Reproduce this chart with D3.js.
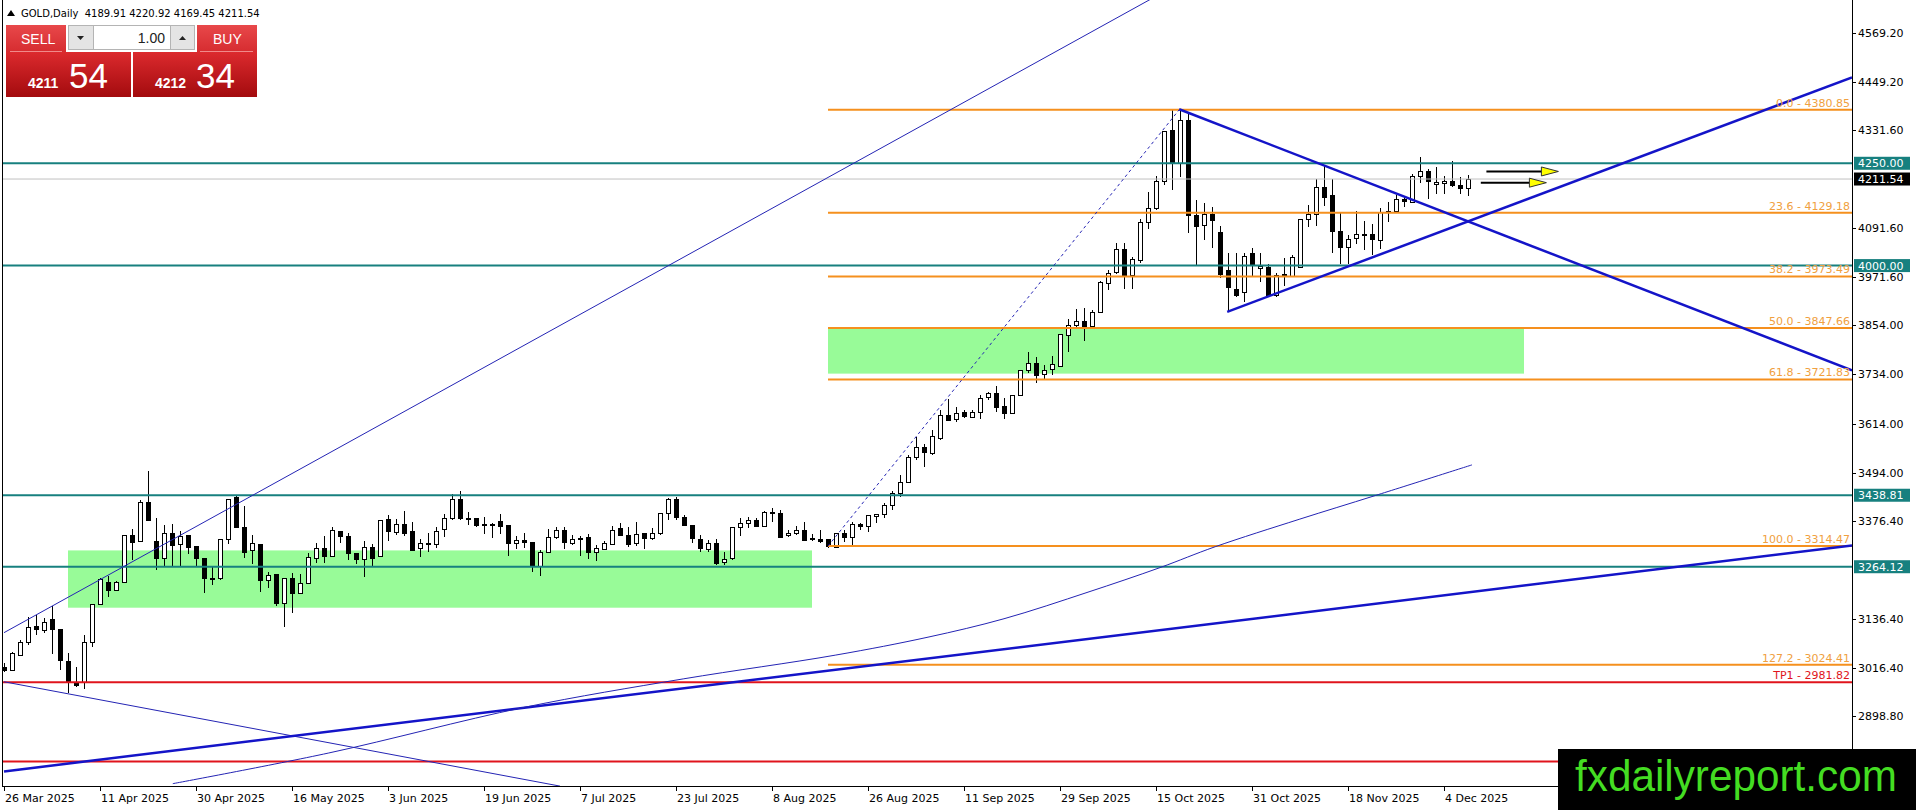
<!DOCTYPE html>
<html>
<head>
<meta charset="utf-8">
<title>GOLD,Daily</title>
<script src="https://cdn.jsdelivr.net/npm/d3@7"></script>
<style>
  body { margin: 0; background: #fff; }
  svg { display: block; font-family: "DejaVu Sans", sans-serif; }
</style>
</head>
<body>
<div id="chart"></div>
<script>
// ---- data ----
const symbol = "GOLD,Daily";
const firstDay = "2025-03-26";
const closedDays = ["2025-04-18"];

const opens = [3020,3013,3050,3081,3119,3110,3136,3111,3034,2979,2982,3079,3172,3226,3206,3226,3341,3327,3422,3327,
  3285,3346,3319,3342,3315,3285,3236,3236,3331,3434,3362,3303,3319,3234,3246,3175,3236,3201,3225,3287,
  3311,3291,3352,3339,3297,3283,3313,3289,3380,3350,3369,3351,3309,3321,3319,3354,3382,3429,3384,3384,
  3369,3368,3377,3366,3321,3329,3325,3268,3299,3336,3354,3324,3333,3336,3299,3309,3321,3358,3342,3321,
  3346,3335,3346,3395,3429,3385,3366,3332,3309,3323,3275,3285,3360,3370,3378,3364,3397,3396,3342,3346,
  3354,3334,3333,3331,3313,3346,3336,3368,3362,3390,3394,3415,3445,3472,3533,3557,3543,3578,3635,3624,
  3641,3631,3641,3678,3688,3657,3641,3684,3745,3763,3736,3746,3755,3832,3855,3865,3852,3885,3958,3983,
  4040,3975,4015,4107,4140,4207,4331,4252,4356,4124,4097,4126,4083,3989,3942,3935,4030,3993,3997,3928,
  3979,3975,3996,4113,4126,4193,4172,4085,4045,4066,4076,4076,4064,4132,4132,4162,4156,4219,4230,4201,
  4201,4207,4197,4189.91];
const highs = [3030,3056,3085,3142,3146,3138,3167,3111,3053,3020,3097,3173,3237,3241,3230,3341,3356,3427,3498,3382,
  3366,3369,3351,3342,3315,3285,3264,3331,3429,3440,3413,3342,3319,3252,3246,3236,3248,3246,3297,3323,
  3340,3362,3352,3347,3297,3328,3320,3378,3391,3380,3400,3374,3333,3347,3360,3394,3443,3448,3399,3384,
  3386,3370,3393,3366,3338,3346,3325,3305,3356,3360,3362,3342,3338,3344,3317,3327,3364,3372,3362,3374,
  3346,3358,3395,3431,3434,3391,3366,3342,3329,3331,3300,3360,3382,3386,3382,3401,3407,3403,3355,3364,
  3374,3343,3354,3331,3346,3354,3374,3370,3390,3394,3419,3450,3488,3537,3580,3563,3598,3647,3673,3655,
  3647,3647,3684,3692,3706,3676,3684,3746,3790,3777,3757,3779,3832,3869,3893,3896,3891,3963,3989,4056,
  4056,4020,4115,4181,4219,4329,4380,4381,4372,4160,4154,4144,4097,4030,4030,4030,4042,4030,4005,3981,
  4018,4026,4113,4148,4211,4243,4211,4132,4075,4134,4110,4102,4140,4156,4172,4168,4225,4265,4235,4240,
  4219,4256,4217,4220.92];
const lows = [3006,3010,3048,3073,3097,3101,3051,3012,2955,2970,2965,3067,3172,3189,3206,3226,3281,3327,3377,3256,
  3264,3263,3263,3295,3263,3199,3220,3232,3319,3359,3285,3270,3203,3211,3167,3116,3150,3201,3222,3274,
  3274,3287,3321,3281,3272,3240,3267,3289,3328,3342,3339,3303,3289,3301,3311,3336,3378,3378,3366,3360,
  3343,3335,3343,3291,3307,3309,3252,3242,3299,3333,3307,3316,3290,3283,3279,3305,3321,3338,3313,3315,
  3307,3329,3342,3378,3378,3364,3323,3301,3301,3268,3268,3281,3339,3358,3362,3362,3374,3338,3336,3342,
  3328,3328,3323,3309,3309,3325,3317,3354,3350,3370,3382,3403,3435,3468,3525,3509,3537,3575,3623,3618,
  3627,3627,3624,3672,3643,3624,3641,3681,3737,3714,3724,3733,3755,3790,3851,3816,3851,3883,3940,3979,
  3942,3942,4007,4089,4137,4197,4185,4217,4080,4001,4063,4042,3969,3887,3924,3912,3975,3961,3924,3924,
  3949,3973,3993,4095,4097,4146,4030,4005,4005,4053,4037,4026,4040,4107,4128,4144,4152,4203,4162,4175,
  4175,4191,4175,4169.45];
const closes = [3012,3054,3081,3118,3111,3130,3111,3036,2983,2975,3079,3173,3233,3206,3226,3341,3323,3422,3377,3285,
  3346,3316,3339,3313,3285,3236,3237,3331,3429,3360,3301,3321,3232,3245,3175,3236,3199,3225,3289,3311,
  3291,3355,3339,3297,3283,3313,3285,3378,3350,3369,3347,3305,3321,3323,3351,3382,3429,3382,3383,3366,
  3368,3368,3366,3321,3329,3324,3268,3301,3336,3354,3324,3333,3334,3299,3309,3323,3354,3340,3319,3343,
  3335,3346,3395,3429,3385,3366,3334,3311,3323,3275,3283,3360,3370,3378,3364,3397,3398,3338,3346,3354,
  3329,3333,3329,3313,3346,3336,3368,3362,3390,3394,3415,3445,3472,3533,3557,3545,3584,3635,3624,3639,
  3632,3643,3676,3688,3655,3641,3684,3745,3761,3733,3746,3759,3832,3856,3865,3852,3887,3959,3983,4040,
  3975,4015,4107,4140,4207,4329,4252,4356,4124,4097,4125,4111,3981,3948,3928,4023,4001,3999,3928,3978,
  3973,4022,4113,4126,4193,4168,4085,4045,4065,4076,4077,4064,4132,4133,4162,4156,4219,4230,4205,4205,
  4207,4197,4189,4211.54];

const dateTicks = ["2025-03-26","2025-04-11","2025-04-30","2025-05-16","2025-06-03","2025-06-19","2025-07-07","2025-07-23",
  "2025-08-08","2025-08-26","2025-09-11","2025-09-29","2025-10-15","2025-10-31","2025-11-18","2025-12-04"];
const priceTicks = [4569.2, 4449.2, 4331.6, 4091.6, 3971.6, 3854.0, 3734.0, 3614.0, 3494.0, 3376.4, 3136.4, 3016.4, 2898.8];

// horizontal levels
const levelPrices = [4250, 4000, 3438.81, 3264.12];
const fibRatios = ["0.0", "23.6", "38.2", "50.0", "61.8", "100.0", "127.2"];
const fibPrices = [4380.85, 4129.18, 3973.49, 3847.66, 3721.83, 3314.47, 3024.41];
const targetNames = ["TP1", ""];
const targetPrices = [2981.82, 2788];

// fib anchor (bar index, price)
const fibFrom = [103, 3314.47];
const fibTo = [146.9, 4380.85];

// green zones: bar index from/to, price top/bottom
const zoneFrom = [8, 103];
const zoneTo = [101, 190];
const zoneTop = [3304, 3848];
const zoneBottom = [3164, 3736];

// trend lines as [bar index, price] pairs
const thinFrom = [[0, 3103], [0, 2983]];
const thinTo = [[160, 4831], [69.5, 2728]];
const thickFrom = [[0, 2764], [146.9, 4382], [152.9, 3887]];
const thickTo = [[231, 3316], [231, 3744], [231, 4460]];

// thin arc under price
const arcIdx = [21.1, 40.6, 64.9, 84.9, 103.9, 115.5, 125.0, 135.5, 144.5, 151.4, 161.9, 171.4, 183.5];
const arcPrice = [2734, 2809, 2920, 2990, 3048, 3092, 3137, 3202, 3262, 3313, 3380, 3438, 3513];

// arrows to the right
const arrowFrom = [185.3, 184.6];
const arrowTo = [194.3, 192.8];
const arrowPrice = [4230, 4202.6];

const bidPrice = "4211.54";
const askPrice = "4212.34";
const lotSize = "1.00";

// ---- layout ----
const W = 1916, H = 810;
const plotLeft = 2, plotRight = 1852, plotBottom = 786;
const tealC = "#17807f", orangeC = "#f5901e", fibText = "#f0a040", redC = "#e0141c", blueC = "#1414c8", thinBlue = "#2424b4";

// trading days, weekdays only
const parseDay = d3.timeParse("%Y-%m-%d");
const keyDay = d3.timeFormat("%Y-%m-%d");
const tickFmt = d3.timeFormat("%-d %b %Y");
const dates = [];
let day = parseDay(firstDay);
while (dates.length < closes.length) {
  const wd = day.getDay();
  if (wd !== 0 && wd !== 6 && !closedDays.includes(keyDay(day))) dates.push(day);
  day = d3.timeDay.offset(day, 1);
}
const bars = closes.map((c, i) => ({ i: i, o: opens[i], h: highs[i], l: lows[i], c: c }));

const x = d3.scaleLinear().domain([0, 231]).range([4, plotRight]);
const y = d3.scaleLinear().domain([2728.3, 4649]).range([plotBottom, 0]);

const svg = d3.select("#chart").append("svg")
  .attr("width", W).attr("height", H);

svg.append("rect").attr("width", W).attr("height", H).attr("fill", "#fff");

svg.append("clipPath").attr("id", "plot")
  .append("rect")
  .attr("x", plotLeft).attr("y", 0)
  .attr("width", plotRight - plotLeft).attr("height", plotBottom);

const plot = svg.append("g").attr("clip-path", "url(#plot)");

// zones
plot.append("g").selectAll("rect")
  .data(zoneFrom)
  .join("rect")
  .attr("x", (d) => x(d))
  .attr("width", (d, i) => x(zoneTo[i]) - x(d))
  .attr("y", (d, i) => y(zoneTop[i]))
  .attr("height", (d, i) => y(zoneBottom[i]) - y(zoneTop[i]))
  .attr("fill", "#98fb98");

// candles
const candle = plot.append("g").attr("shape-rendering", "crispEdges")
  .selectAll("g")
  .data(bars)
  .join("g");

candle.append("line")
  .attr("x1", (d) => Math.round(x(d.i)) + 0.5)
  .attr("x2", (d) => Math.round(x(d.i)) + 0.5)
  .attr("y1", (d) => y(d.h))
  .attr("y2", (d) => y(d.l))
  .attr("stroke", "#000");

candle.append("rect")
  .attr("x", (d) => Math.round(x(d.i)) - 1.5)
  .attr("width", 4)
  .attr("y", (d) => Math.round(y(Math.max(d.o, d.c))) + 0.5)
  .attr("height", (d) => Math.max(0.5, Math.round(Math.abs(y(d.o) - y(d.c)))))
  .attr("fill", (d) => (d.c >= d.o ? "#fff" : "#000"))
  .attr("stroke", "#000");

// current price line
plot.append("line")
  .attr("x1", plotLeft).attr("x2", plotRight)
  .attr("y1", y(closes[closes.length - 1])).attr("y2", y(closes[closes.length - 1]))
  .attr("stroke", "#c0c0c0").attr("stroke-width", 1);

// teal levels
plot.append("g").selectAll("line")
  .data(levelPrices)
  .join("line")
  .attr("x1", plotLeft).attr("x2", plotRight)
  .attr("y1", (d) => y(d)).attr("y2", (d) => y(d))
  .attr("stroke", tealC).attr("stroke-width", 2);

// targets
plot.append("g").selectAll("line")
  .data(targetPrices)
  .join("line")
  .attr("x1", plotLeft).attr("x2", plotRight)
  .attr("y1", (d) => y(d)).attr("y2", (d) => y(d))
  .attr("stroke", redC).attr("stroke-width", 2);

// fibonacci levels
plot.append("g").selectAll("line")
  .data(fibPrices)
  .join("line")
  .attr("x1", x(fibFrom[0])).attr("x2", plotRight)
  .attr("y1", (d) => y(d)).attr("y2", (d) => y(d))
  .attr("stroke", orangeC).attr("stroke-width", 2);

plot.append("line")
  .attr("x1", x(fibFrom[0])).attr("y1", y(fibFrom[1]))
  .attr("x2", x(fibTo[0])).attr("y2", y(fibTo[1]))
  .attr("stroke", thinBlue).attr("stroke-width", 1)
  .attr("stroke-dasharray", "3,3");

// trend lines
plot.append("g").selectAll("line")
  .data(thinFrom)
  .join("line")
  .attr("x1", (d) => x(d[0])).attr("y1", (d) => y(d[1]))
  .attr("x2", (d, i) => x(thinTo[i][0])).attr("y2", (d, i) => y(thinTo[i][1]))
  .attr("stroke", thinBlue).attr("stroke-width", 1);

plot.append("g").selectAll("line")
  .data(thickFrom)
  .join("line")
  .attr("x1", (d) => x(d[0])).attr("y1", (d) => y(d[1]))
  .attr("x2", (d, i) => x(thickTo[i][0])).attr("y2", (d, i) => y(thickTo[i][1]))
  .attr("stroke", blueC).attr("stroke-width", 2.5);

const arcLine = d3.line()
  .x((d) => x(d[0]))
  .y((d) => y(d[1]))
  .curve(d3.curveCatmullRom.alpha(0.5));

plot.append("path")
  .datum(arcIdx.map((d, i) => [d, arcPrice[i]]))
  .attr("d", arcLine)
  .attr("fill", "none")
  .attr("stroke", thinBlue).attr("stroke-width", 1);

// arrows
const arrows = plot.append("g").selectAll("g")
  .data(arrowFrom)
  .join("g");

arrows.append("line")
  .attr("x1", (d) => x(d)).attr("x2", (d, i) => x(arrowTo[i]) - 14)
  .attr("y1", (d, i) => y(arrowPrice[i])).attr("y2", (d, i) => y(arrowPrice[i]))
  .attr("stroke", "#000").attr("stroke-width", 2);

arrows.append("path")
  .attr("d", (d, i) => {
    const tx = x(arrowTo[i]), ty = y(arrowPrice[i]);
    return "M" + tx + "," + ty + "L" + (tx - 17) + "," + (ty - 4.5) + "L" + (tx - 17) + "," + (ty + 4.5) + "Z";
  })
  .attr("fill", "#ffff00")
  .attr("stroke", "#333").attr("stroke-width", 1);

// fib and target labels
svg.append("g").selectAll("text")
  .data(fibPrices)
  .join("text")
  .attr("x", plotRight - 2)
  .attr("y", (d) => y(d) - 3)
  .attr("text-anchor", "end")
  .attr("font-size", 11)
  .attr("fill", fibText)
  .text((d, i) => fibRatios[i] + " - " + d.toFixed(2));

svg.append("g").selectAll("text")
  .data(targetPrices.filter((d, i) => targetNames[i]))
  .join("text")
  .attr("x", plotRight - 2)
  .attr("y", (d) => y(d) - 3)
  .attr("text-anchor", "end")
  .attr("font-size", 11)
  .attr("fill", redC)
  .text((d, i) => targetNames[i] + " - " + d.toFixed(2));

// frame
const frame = svg.append("g").attr("shape-rendering", "crispEdges").attr("stroke", "#000");
frame.append("line").attr("x1", plotLeft + 0.5).attr("x2", plotLeft + 0.5).attr("y1", 0).attr("y2", plotBottom);
frame.append("line").attr("x1", plotLeft).attr("x2", plotRight).attr("y1", plotBottom + 0.5).attr("y2", plotBottom + 0.5);
frame.append("line").attr("x1", plotRight + 0.5).attr("x2", plotRight + 0.5).attr("y1", 0).attr("y2", plotBottom + 1);

// right price scale
const yAxis = svg.append("g");
yAxis.selectAll("line")
  .data(priceTicks)
  .join("line")
  .attr("shape-rendering", "crispEdges")
  .attr("x1", plotRight).attr("x2", plotRight + 4)
  .attr("y1", (d) => Math.round(y(d)) + 0.5).attr("y2", (d) => Math.round(y(d)) + 0.5)
  .attr("stroke", "#000");
yAxis.selectAll("text")
  .data(priceTicks)
  .join("text")
  .attr("x", plotRight + 6)
  .attr("y", (d) => y(d))
  .attr("dy", "0.36em")
  .attr("font-size", 11)
  .attr("fill", "#000")
  .text((d) => d3.format(".2f")(d));

// price boxes on the scale
const boxPrices = levelPrices.concat([closes[closes.length - 1]]);
const boxes = svg.append("g").selectAll("g")
  .data(boxPrices)
  .join("g")
  .attr("transform", (d) => "translate(" + (plotRight + 2) + "," + y(d) + ")");
boxes.append("rect")
  .attr("x", 0).attr("y", -6.5)
  .attr("width", 56).attr("height", 13)
  .attr("fill", (d, i) => (i < levelPrices.length ? tealC : "#000"));
boxes.append("text")
  .attr("x", 4).attr("dy", "0.36em")
  .attr("font-size", 11)
  .attr("fill", "#fff")
  .text((d) => d3.format(".2f")(d));

// date scale
const xAxis = svg.append("g");
const tickIdx = dateTicks.map((t) => dates.findIndex((d) => keyDay(d) === t));
xAxis.selectAll("line")
  .data(tickIdx)
  .join("line")
  .attr("shape-rendering", "crispEdges")
  .attr("x1", (d) => Math.round(x(d)) + 0.5).attr("x2", (d) => Math.round(x(d)) + 0.5)
  .attr("y1", plotBottom).attr("y2", plotBottom + 5)
  .attr("stroke", "#000");
xAxis.selectAll("text")
  .data(tickIdx)
  .join("text")
  .attr("x", (d) => x(d) + 1)
  .attr("y", plotBottom + 16)
  .attr("font-size", 11)
  .attr("fill", "#000")
  .text((d) => tickFmt(dates[d]));

// title line
const last = bars[bars.length - 1];
svg.append("path")
  .attr("d", "M7,16L11,10L15,16Z")
  .attr("fill", "#000");
svg.append("text")
  .attr("x", 21).attr("y", 17)
  .attr("font-size", 10)
  .attr("fill", "#000")
  .attr("xml:space", "preserve")
  .text(symbol + "  " + [last.o, last.h, last.l, last.c].map(d3.format(".2f")).join(" "));

// one-click trading panel
const defs = svg.append("defs");
const grad = defs.append("linearGradient").attr("id", "redCell").attr("x1", 0).attr("x2", 0).attr("y1", 0).attr("y2", 1);
grad.append("stop").attr("offset", "0%").attr("stop-color", "#dc2a2e");
grad.append("stop").attr("offset", "100%").attr("stop-color", "#a30b0e");
const gradTop = defs.append("linearGradient").attr("id", "redTop").attr("x1", 0).attr("x2", 0).attr("y1", 0).attr("y2", 1);
gradTop.append("stop").attr("offset", "0%").attr("stop-color", "#e8484a");
gradTop.append("stop").attr("offset", "100%").attr("stop-color", "#d62c30");

const panel = svg.append("g").attr("font-family", "'Liberation Sans', Arial, sans-serif");
panel.append("rect").attr("x", 6).attr("y", 25).attr("width", 60).attr("height", 27).attr("fill", "url(#redTop)");
panel.append("rect").attr("x", 197).attr("y", 25).attr("width", 60).attr("height", 27).attr("fill", "url(#redTop)");
panel.append("rect").attr("x", 6).attr("y", 52).attr("width", 125).attr("height", 45).attr("fill", "url(#redCell)");
panel.append("rect").attr("x", 133).attr("y", 52).attr("width", 124).attr("height", 45).attr("fill", "url(#redCell)");
panel.append("line").attr("x1", 10).attr("x2", 62).attr("y1", 51.5).attr("y2", 51.5).attr("stroke", "#f08a8a");
panel.append("line").attr("x1", 200).attr("x2", 253).attr("y1", 51.5).attr("y2", 51.5).attr("stroke", "#f08a8a");

panel.append("rect").attr("x", 68.5).attr("y", 25.5).attr("width", 126).attr("height", 24).attr("fill", "#e4e4e4").attr("stroke", "#b4b4b4");
panel.append("rect").attr("x", 93.5).attr("y", 25.5).attr("width", 77).attr("height", 24).attr("fill", "#fff").attr("stroke", "#b4b4b4");
panel.append("path").attr("d", "M77,36L84,36L80.5,40Z").attr("fill", "#222");
panel.append("path").attr("d", "M179,40L186,40L182.5,36Z").attr("fill", "#222");
panel.append("text").attr("x", 165).attr("y", 43).attr("text-anchor", "end").attr("font-size", 14).attr("fill", "#222").text(lotSize);

panel.append("text").attr("x", 21).attr("y", 44).attr("font-size", 14).attr("fill", "#fff").text("SELL");
panel.append("text").attr("x", 213).attr("y", 44).attr("font-size", 14).attr("fill", "#fff").text("BUY");

const quotes = [bidPrice, askPrice];
const quoteX = [28, 155];
panel.selectAll("g.quote")
  .data(quotes)
  .join("g")
  .attr("class", "quote")
  .each(function (q, i) {
    const g = d3.select(this);
    const parts = q.split(".");
    g.append("text").attr("x", quoteX[i]).attr("y", 88).attr("font-size", 14).attr("font-weight", "bold")
      .attr("fill", "#fff").text(parts[0]);
    g.append("text").attr("x", quoteX[i] + 41).attr("y", 88).attr("font-size", 35)
      .attr("fill", "#fff").text(parts[1]);
  });

// watermark
svg.append("rect").attr("x", 1558).attr("y", 749).attr("width", W - 1558).attr("height", H - 749).attr("fill", "#000");
svg.append("text")
  .attr("x", 1575).attr("y", 791)
  .attr("font-family", "'Liberation Sans', Arial, sans-serif")
  .attr("font-size", 45)
  .attr("textLength", 322).attr("lengthAdjust", "spacingAndGlyphs")
  .attr("fill", "#44dd22")
  .text("fxdailyreport.com");
</script>
</body>
</html>
